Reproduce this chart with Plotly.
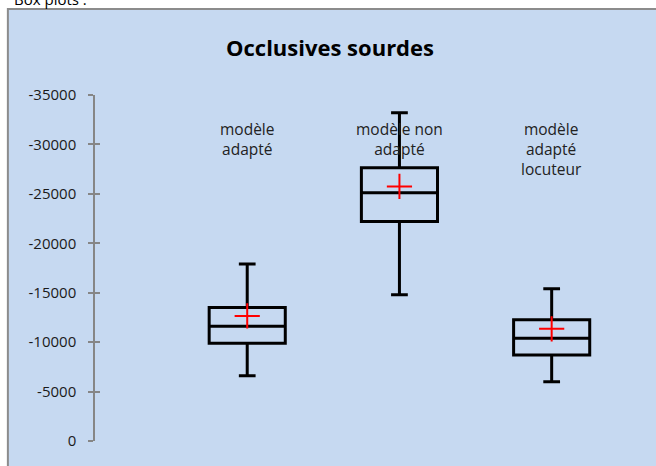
import plotly.graph_objects as go

# valeurs (scores négatifs)
modeles = ["modèle<br>adapté", "modèle non<br>adapté", "modèle<br>adapté<br>locuteur"]
positions = [1, 2, 3]
bas = [-17900, -33200, -15400]      # moustache haute sur le graphique (valeur la plus négative)
q1 = [-13500, -27650, -12270]
mediane = [-11600, -25100, -10400]
q3 = [-9900, -22200, -8700]
haut = [-6600, -14800, -6000]
moyenne = [-12650, -25750, -11350]
graduations = [0, -5000, -10000, -15000, -20000, -25000, -30000, -35000]
etiquettes = ["0", "-5000", "-10000", "-15000", "-20000", "-25000", "-30000", "-35000"]

fond = "#C6D9F1"
police = "Open Sans"

fig = go.Figure()

for i in range(len(positions)):
    fig.add_trace(go.Box(
        x=[positions[i]],
        q1=[q1[i]], median=[mediane[i]], q3=[q3[i]],
        lowerfence=[bas[i]], upperfence=[haut[i]],
        width=0.5, whiskerwidth=0.22,
        line=dict(color="black", width=3),
        fillcolor="rgba(0,0,0,0)",
        showlegend=False, hoverinfo="skip",
    ))

fig.add_trace(go.Scatter(
    x=positions, y=moyenne, mode="markers",
    marker=dict(symbol="cross-thin", size=18, line=dict(color="red", width=2), color="red"),
    showlegend=False,
))

for i in range(len(positions)):
    fig.add_annotation(
        x=positions[i], y=-32900, text=modeles[i], showarrow=False,
        yanchor="top", font=dict(family=police, size=15.5, color="#222222"),
    )

# zone du graphique (cadre gris, fond bleu)
fig.add_shape(
    type="rect", xref="paper", yref="paper", layer="below",
    x0=-0.159, x1=1.1, y0=-0.12, y1=1.2486,
    fillcolor=fond, line=dict(color="#8c8c8c", width=2),
)

fig.add_annotation(
    xref="paper", yref="paper", x=-0.152, y=1.2434, xanchor="left", yanchor="bottom",
    text="Box plots :", showarrow=False, font=dict(family=police, size=15, color="black"),
)

fig.add_annotation(
    xref="paper", yref="paper", x=0.4288, y=1.1387, xanchor="center", yanchor="middle",
    text="<b>Occlusives sourdes</b>", showarrow=False,
    font=dict(family=police, size=22, color="black"),
)

fig.update_layout(
    width=656, height=466,
    margin=dict(l=95, r=13, t=95, b=25),
    paper_bgcolor="white", plot_bgcolor="rgba(0,0,0,0)",
    xaxis=dict(range=[0, 3.6], visible=False),
    yaxis=dict(
        range=[0, -35000], tickvals=graduations, ticktext=etiquettes,
        showgrid=False, zeroline=False, showline=True, linecolor="#868686", linewidth=1.5,
        ticks="outside", ticklen=5, tickcolor="#868686", tickwidth=1.5,
        ticklabelstandoff=9, tickfont=dict(family=police, size=15, color="#1a1a1a"),
    ),
    yaxis2=dict(
        range=[0, -35000], overlaying="y", tickvals=graduations,
        showgrid=False, zeroline=False, showline=False, showticklabels=False,
        ticks="inside", ticklen=5, tickcolor="#868686", tickwidth=1.5,
    ),
)

# trace invisible pour afficher l'axe secondaire
fig.add_trace(go.Scatter(x=[0], y=[0], yaxis="y2", mode="markers", marker=dict(opacity=0),
                         showlegend=False, hoverinfo="skip"))

fig.write_html("out.html", config={"displayModeBar": False},
               post_script="document.body.style.margin='0';")
